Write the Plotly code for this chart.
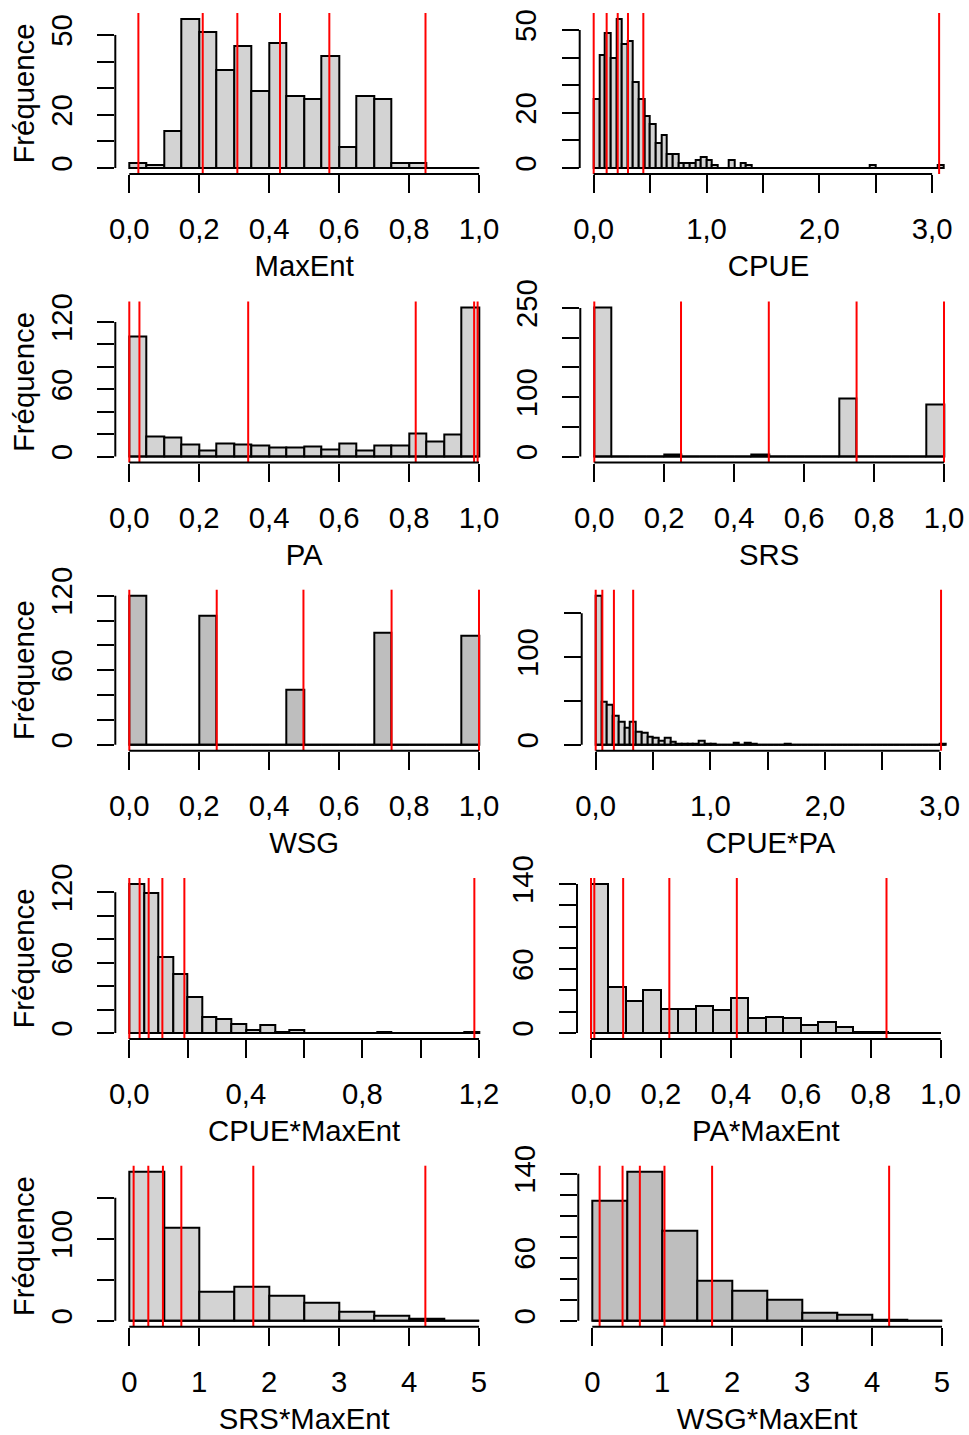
import plotly.graph_objects as go

# ---------------- data ----------------
maxent_counts = [2, 1, 14, 56, 51, 37, 46, 29, 47, 27, 26, 42, 8, 27, 26, 2, 2, 0, 0, 0]
maxent_vlines = [0.026, 0.21, 0.309, 0.431, 0.572, 0.847]

cpue_counts = [25, 41, 49, 40, 54, 45, 46, 31, 25, 19, 16, 9, 12, 5, 5, 2, 2, 2, 3, 4,
               3, 1, 0, 0, 3, 0, 2, 1, 0, 0, 0, 0, 0, 0, 0, 0, 0, 0, 0, 0,
               0, 0, 0, 0, 0, 0, 0, 0, 0, 1, 0, 0, 0, 0, 0, 0, 0, 0, 0, 0,
               0, 1]
cpue_vlines = [0.0, 0.115, 0.213, 0.304, 0.44, 3.062]

pa_counts = [107, 18, 17, 11, 5, 12, 11, 10, 8, 8, 9, 6, 12, 5, 10, 10, 21, 13, 20, 133]
pa_vlines = [0.0, 0.029, 0.34, 0.819, 0.986, 0.996]

srs_counts = [251, 0, 0, 0, 4, 0, 0, 0, 0, 4, 0, 0, 0, 0, 98, 0, 0, 0, 0, 87]
srs_vlines = [0.0, 0.248, 0.499, 0.75, 1.0]

wsg_counts = [120, 0, 0, 0, 104, 0, 0, 0, 0, 44, 0, 0, 0, 0, 90, 0, 0, 0, 0, 88]
wsg_vlines = [0.0, 0.25, 0.498, 0.75, 1.0]

cpuepa_counts = [170, 49, 46, 33, 26, 20, 26, 15, 14, 9, 8, 5, 8, 3, 1, 1, 1, 1, 5, 1,
                 1, 0, 0, 0, 2, 0, 2, 1, 0, 0, 0, 0, 0, 1, 0, 0, 0, 0, 0, 0,
                 0, 0, 0, 0, 0, 0, 0, 0, 0, 0, 0, 0, 0, 0, 0, 0, 0, 0, 0, 0,
                 1]
cpuepa_vlines = [0.0, 0.058, 0.159, 0.327, 3.012]

cpuemaxent_counts = [127, 119, 65, 50, 31, 14, 12, 8, 3, 7, 1, 3, 0, 0, 0, 0, 0, 1, 0, 0, 0, 0, 0, 1]
cpuemaxent_vlines = [0.0, 0.0355, 0.0665, 0.1135, 0.189, 1.184]

pamaxent_counts = [140, 43, 30, 40, 23, 23, 25, 22, 33, 14, 15, 14, 8, 10, 6, 1, 1, 0, 0, 0]
pamaxent_vlines = [0.0, 0.0095, 0.092, 0.224, 0.417, 0.845]

srsmaxent_counts = [182, 114, 35, 42, 31, 22, 11, 6, 2, 0]
srsmaxent_vlines = [0.062, 0.272, 0.481, 0.744, 1.773, 4.233]

wsgmaxent_counts = [114, 142, 86, 38, 29, 20, 8, 6, 1, 0]
wsgmaxent_vlines = [0.105, 0.433, 0.680, 1.032, 1.713, 4.244]

bin_width_fine = 0.05
bin_width_coarse = 0.5

# tick values / labels
unit_xticks = [0.0, 0.2, 0.4, 0.6, 0.8, 1.0]
unit_xlabels = ["0,0", "0,2", "0,4", "0,6", "0,8", "1,0"]
cpue_xticks = [0.0, 0.5, 1.0, 1.5, 2.0, 2.5, 3.0]
cpue_xlabels = ["0,0", "", "1,0", "", "2,0", "", "3,0"]
cm_xticks = [0.0, 0.2, 0.4, 0.6, 0.8, 1.0, 1.2]
cm_xlabels = ["0,0", "", "0,4", "", "0,8", "", "1,2"]
five_xticks = [0, 1, 2, 3, 4, 5]
five_xlabels = ["0", "1", "2", "3", "4", "5"]

y50_ticks = [0, 10, 20, 30, 40, 50]
y50_labels = ["0", "", "20", "", "", "50"]
y120_ticks = [0, 20, 40, 60, 80, 100, 120]
y120_labels = ["0", "", "", "60", "", "", "120"]
y250_ticks = [0, 50, 100, 150, 200, 250]
y250_labels = ["0", "", "100", "", "", "250"]
y150_ticks = [0, 50, 100, 150]
y150_labels = ["0", "", "100", ""]
y140_ticks = [0, 20, 40, 60, 80, 100, 120, 140]
y140_labels = ["0", "", "", "60", "", "", "", "140"]

x_titles = ["MaxEnt", "CPUE", "PA", "SRS", "WSG", "CPUE*PA",
            "CPUE*MaxEnt", "PA*MaxEnt", "SRS*MaxEnt", "WSG*MaxEnt"]
y_title = "Fréquence"

LIGHT = "#D3D3D3"
DARK = "#BEBEBE"

panels = [
    (maxent_counts, bin_width_fine, maxent_vlines, unit_xticks, unit_xlabels, y50_ticks, y50_labels, LIGHT),
    (cpue_counts, bin_width_fine, cpue_vlines, cpue_xticks, cpue_xlabels, y50_ticks, y50_labels, LIGHT),
    (pa_counts, bin_width_fine, pa_vlines, unit_xticks, unit_xlabels, y120_ticks, y120_labels, LIGHT),
    (srs_counts, bin_width_fine, srs_vlines, unit_xticks, unit_xlabels, y250_ticks, y250_labels, LIGHT),
    (wsg_counts, bin_width_fine, wsg_vlines, unit_xticks, unit_xlabels, y120_ticks, y120_labels, DARK),
    (cpuepa_counts, bin_width_fine, cpuepa_vlines, cpue_xticks, cpue_xlabels, y150_ticks, y150_labels, LIGHT),
    (cpuemaxent_counts, bin_width_fine, cpuemaxent_vlines, cm_xticks, cm_xlabels, y120_ticks, y120_labels, LIGHT),
    (pamaxent_counts, bin_width_fine, pamaxent_vlines, unit_xticks, unit_xlabels, y140_ticks, y140_labels, LIGHT),
    (srsmaxent_counts, bin_width_coarse, srsmaxent_vlines, five_xticks, five_xlabels, y150_ticks, y150_labels, LIGHT),
    (wsgmaxent_counts, bin_width_coarse, wsgmaxent_vlines, five_xticks, five_xlabels, y140_ticks, y140_labels, DARK),
]

# ---------------- layout geometry (pixels) ----------------
W, H = 969, 1435
REGION_W = 377.7
REGION_H = 161.0
row_bottoms = [174.0, 462.5, 750.7, 1039.0, 1326.7]
left_col_x = 115.3
right_col_x = [579.7, 580.3, 581.7, 577.0, 578.3]

FONT = "Liberation Sans, Arial, sans-serif"
FS = 29.3

fig = go.Figure()
shapes = []
layout_axes = {}

for i, (counts, bw, vlines, xt, xl, yt, yl, fill) in enumerate(panels):
    n = i + 1
    xname = "x" if n == 1 else f"x{n}"
    yname = "y" if n == 1 else f"y{n}"
    row, col = i // 2, i % 2
    left = left_col_x if col == 0 else right_col_x[row]
    bottom = row_bottoms[row]

    b0 = 0.0
    b1 = bw * len(counts)
    centers = [b0 + (k + 0.5) * bw for k in range(len(counts))]
    m = max(counts)

    fig.add_trace(go.Bar(
        x=centers, y=counts, width=bw, xaxis=xname, yaxis=yname,
        marker=dict(color=fill, line=dict(color="black", width=2)),
        hoverinfo="skip", showlegend=False))
    # zero-height bins (baseline), as R draws them
    fig.add_trace(go.Scatter(
        x=[b0, b1], y=[0, 0], mode="lines", xaxis=xname, yaxis=yname,
        line=dict(color="black", width=2), hoverinfo="skip", showlegend=False))

    for v in vlines:
        shapes.append(dict(type="line", xref=xname, yref=f"{yname} domain",
                           x0=v, x1=v, y0=0, y1=1,
                           line=dict(color="#FF0000", width=2), layer="above"))
    # R style axis lines: only between first and last tick
    shapes.append(dict(type="line", xref=f"{xname} domain", yref=yname,
                       x0=0, x1=0, y0=yt[0], y1=yt[-1],
                       line=dict(color="black", width=2)))
    shapes.append(dict(type="line", xref=xname, yref=f"{yname} domain",
                       x0=xt[0], x1=xt[-1], y0=0, y1=0,
                       line=dict(color="black", width=2)))

    xr = [b0 - 0.04 * (b1 - b0), b1 + 0.04 * (b1 - b0)]
    yr = [-0.04 * m, 1.04 * m]

    axkey_x = "xaxis" if n == 1 else f"xaxis{n}"
    axkey_y = "yaxis" if n == 1 else f"yaxis{n}"
    layout_axes[axkey_x] = dict(
        domain=[left / W, (left + REGION_W) / W], range=xr, anchor=yname,
        tickmode="array", tickvals=xt, ticktext=xl,
        ticks="outside", ticklen=18, tickwidth=2, tickcolor="black",
        showgrid=False, zeroline=False, showline=False, automargin=False,
        tickfont=dict(family=FONT, size=FS, color="black"),
        ticklabelstandoff=11,
        title=dict(text=x_titles[i], font=dict(family=FONT, size=FS, color="black"), standoff=11),
        fixedrange=True)
    ydict = dict(
        domain=[(H - bottom) / H, (H - bottom + REGION_H) / H], range=yr, anchor=xname,
        tickmode="array", tickvals=yt, ticktext=yl, tickangle=-90,
        ticks="outside", ticklen=17, tickwidth=2, tickcolor="black",
        showgrid=False, zeroline=False, showline=False, automargin=False,
        tickfont=dict(family=FONT, size=FS, color="black"),
        ticklabelstandoff=14,
        fixedrange=True)
    if col == 0:
        ydict["title"] = dict(text=y_title, font=dict(family=FONT, size=FS, color="black"), standoff=1)
    layout_axes[axkey_y] = ydict

fig.update_layout(
    width=W, height=H,
    margin=dict(l=0, r=0, t=0, b=0, pad=0, autoexpand=False),
    paper_bgcolor="white", plot_bgcolor="white",
    showlegend=False, bargap=0,
    shapes=shapes,
    **layout_axes)

fig.write_html("out.html", config={"displayModeBar": False},
               post_script="document.body.style.margin='0';")
